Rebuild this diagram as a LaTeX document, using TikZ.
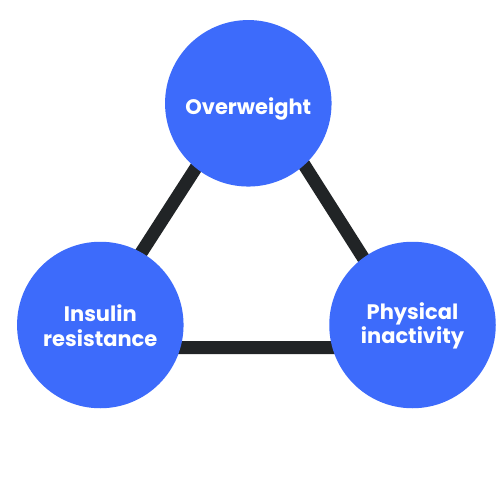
\documentclass[tikz,border=0pt]{standalone}
\usepackage{fontspec}
\setmainfont{Poppins}
\usetikzlibrary{calc}
\definecolor{circblue}{HTML}{3D6BFB}
\definecolor{linedark}{HTML}{212426}
\begin{document}
\begin{tikzpicture}[x=1pt,y=-1pt,
  bubble/.style={circle, fill=circblue, minimum size=166.5pt, inner sep=0pt},
  bubbletext/.style={text=white, inner sep=0pt, font=\bfseries\fontsize{21}{24.7}\selectfont, align=center},
  edgeline/.style={draw=linedark, line width=13pt}]
\useasboundingbox (0,0) rectangle (500,500);
\fill[white] (0,0) rectangle (500,500);
\coordinate (ta) at (251.4,81.7);
\coordinate (tb) at (80,347.7);
\coordinate (tc) at (420.3,347.7);
\draw[edgeline] (ta) -- (tb) -- (tc) -- cycle;
\node[bubble] (over) at (248.3,103.3) {};
\node[bubble] (ins) at (100.3,325) {};
\node[bubble] (phys) at (412.5,325) {};
\node[bubbletext, anchor=base] (overt) at ($(over.center)+(0,11)$) {Overweight};
\node[bubbletext] (inst) at ($(ins.center)+(0,1)$) {Insulin\\resistance};
\node[bubbletext] (physt) at ($(phys.center)+(0,1)$) {Physical\\inactivity};
\end{tikzpicture}
\end{document}
